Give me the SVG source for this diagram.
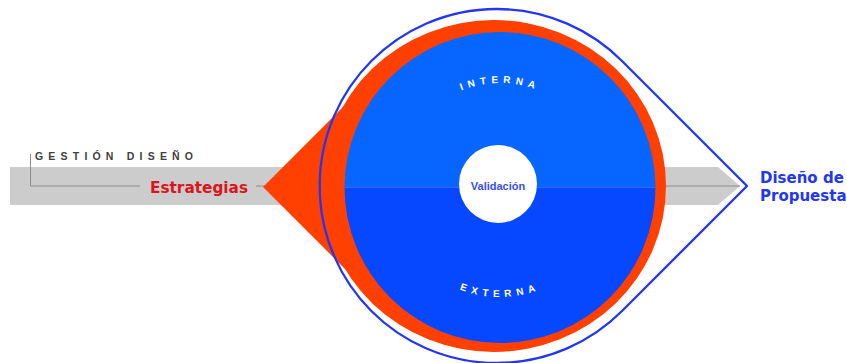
<svg xmlns="http://www.w3.org/2000/svg" width="847" height="363" viewBox="0 0 847 363">
  <defs>
    <style>
      .bold { font-family: "DejaVu Sans", "Liberation Sans", sans-serif; font-weight: bold; }
      .ring-label { font-family: "Liberation Sans", Arial, sans-serif; font-weight: bold; font-size: 10px; letter-spacing: 5px; fill: #ffffff; }
      .guide { fill: none; stroke: #8c8c8c; stroke-width: 1; }
    </style>
    <path id="arc-top" d="M 396 187 A 104 104 0 0 1 604 187"/>
    <path id="arc-bottom" d="M 390 187 A 110 110 0 0 0 610 187"/>
  </defs>

  <rect width="847" height="363" fill="#ffffff"/>

  <!-- process band -->
  <g id="band">
    <polygon points="10,167 718,167 740,186 718,205 10,205" fill="#cccccc"/>
  </g>

  <!-- guide lines -->
  <g id="connectors">
    <polyline class="guide" points="30.5,154 30.5,186 140,186"/>
    <line class="guide" x1="256" y1="186" x2="740" y2="186"/>
  </g>

  <!-- strategy wedge -->
  <g id="wedge">
    <polygon points="263,187 372,78 372,296" fill="#ff4000"/>
    <ellipse cx="494" cy="186" rx="172" ry="166" fill="#ff4000"/>
  </g>

  <!-- validation disc -->
  <g id="disc">
    <path d="M 344.5 187.5 A 155.5 155.5 0 0 1 655.5 187.5 Z" fill="#0766ff"/>
    <path d="M 344.5 187.5 A 155.5 155.5 0 0 0 655.5 187.5 Z" fill="#0648ff"/>
    <line x1="344.5" y1="187.5" x2="655.5" y2="187.5" stroke="#3a62ff" stroke-width="1"/>
    <text class="ring-label"><textPath href="#arc-top" startOffset="50%" text-anchor="middle">INTERNA</textPath></text>
    <text class="ring-label"><textPath href="#arc-bottom" startOffset="50%" text-anchor="middle">EXTERNA</textPath></text>
  </g>

  <!-- centre -->
  <g id="validacion">
    <circle cx="498" cy="184" r="39" fill="#ffffff"/>
    <text x="498" y="190" text-anchor="middle" font-family="Liberation Sans, Arial, sans-serif" font-weight="bold" font-size="11" fill="#3a50e6">Validación</text>
  </g>

  <!-- outer outline -->
  <g id="outline">
    <path d="M 622 61 A 177 177 0 1 0 622 311 L 747 186 Z" fill="none" stroke="#2336f0" stroke-width="2.3" stroke-linejoin="round"/>
  </g>

  <!-- labels -->
  <g id="gestion">
    <text x="35" y="160" font-family="Liberation Sans, Arial, sans-serif" font-weight="bold" font-size="10.5" letter-spacing="5.2" fill="#404040">GESTIÓN DISEÑO</text>
  </g>
  <g id="estrategias">
    <text class="bold" x="150" y="193" font-size="15.3" fill="#d9161c">Estrategias</text>
  </g>
  <g id="propuesta">
    <text class="bold" x="760" y="183" font-size="15" fill="#2336f0">Diseño de</text>
    <text class="bold" x="760" y="201" font-size="15" fill="#2336f0">Propuesta</text>
  </g>
</svg>
